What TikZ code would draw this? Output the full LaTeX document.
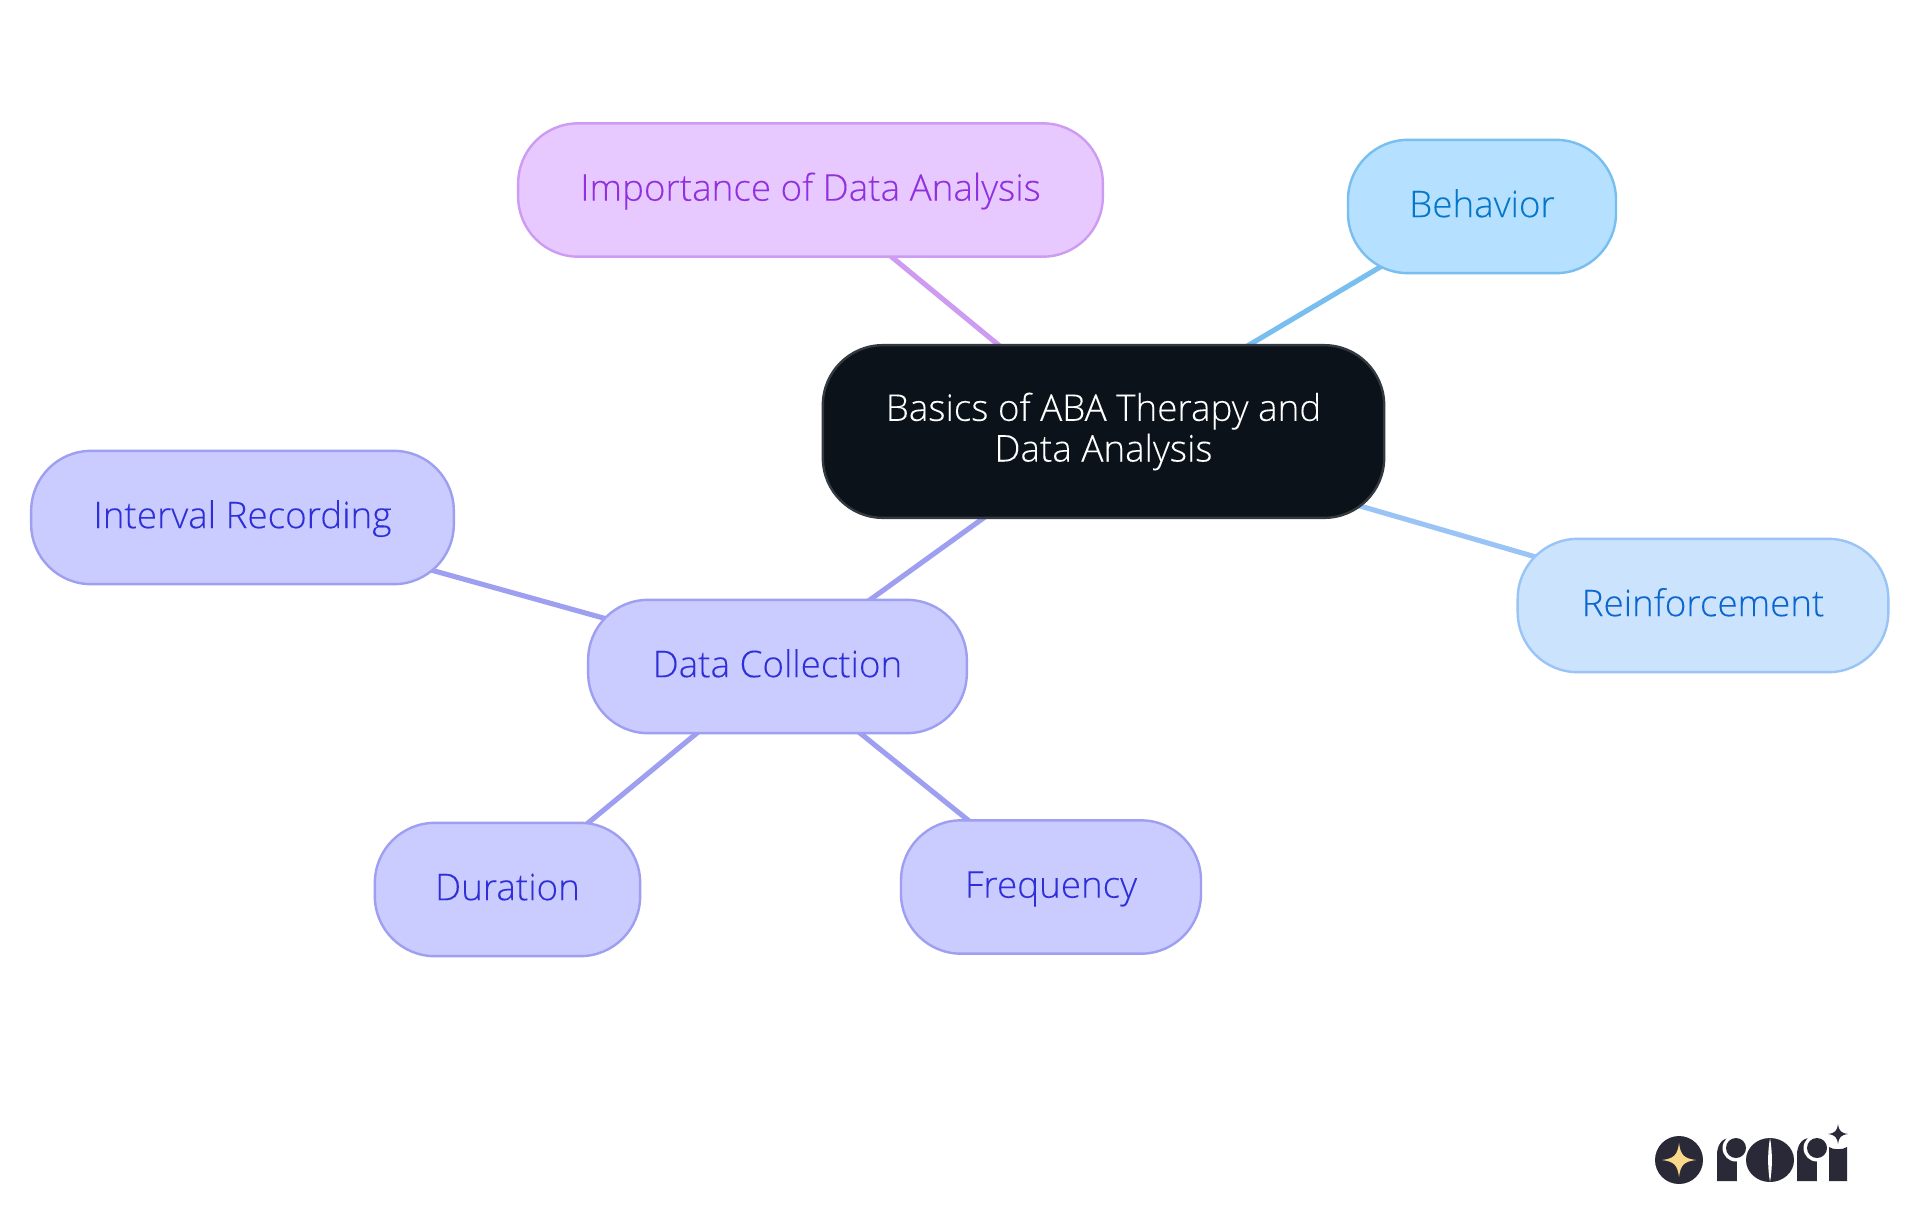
\documentclass[tikz,border=0pt]{standalone}
\usepackage{fontspec}
\setmainfont{Open Sans}[UprightFont=* Light,UprightFeatures={FakeBold=0.12}]
\definecolor{rootfill}{HTML}{0C121A}\definecolor{rootline}{HTML}{34393F}
\definecolor{pfill}{HTML}{E7C9FF}\definecolor{pline}{HTML}{CD9CF2}\definecolor{ptext}{HTML}{9030DF}
\definecolor{bfill}{HTML}{B5E0FF}\definecolor{bline}{HTML}{78BEEF}\definecolor{btext}{HTML}{0577C9}
\definecolor{rfill}{HTML}{CCE3FD}\definecolor{rline}{HTML}{99C4F5}\definecolor{rtext}{HTML}{0B66D0}
\definecolor{dfill}{HTML}{CACBFF}\definecolor{dline}{HTML}{9E9FF0}\definecolor{dtext}{HTML}{2E2FD6}
\definecolor{logo}{HTML}{2A2937}\definecolor{logostar}{HTML}{FBD98B}
\tikzset{
 mm/.style={rectangle,rounded corners=45pt,line width=1.8pt,inner sep=0pt,align=center,font=\fontsize{27.6pt}{30.5pt}\selectfont},
 one/.style={mm,text height=24pt,text depth=8pt,minimum height=100pt},
 rootn/.style={mm,fill=rootfill,draw=rootline,text=white},
 pn/.style={one,fill=pfill,draw=pline,text=ptext},
 bn/.style={one,fill=bfill,draw=bline,text=btext},
 rn/.style={one,fill=rfill,draw=rline,text=rtext},
 dn/.style={one,fill=dfill,draw=dline,text=dtext},
 link/.style={line width=3.8pt}
}
\begin{document}
\begin{tikzpicture}[x=0.75pt,y=-0.75pt]
\useasboundingbox (0,0) rectangle (1920,1215);
\fill[white] (0,0) rectangle (1920,1215);
\coordinate (rc) at (1103.5,431.5);
\coordinate (pc) at (810.5,190);
\coordinate (bc) at (1482,206.5);
\coordinate (rfc) at (1703,605.5);
\coordinate (dc) at (777.5,666.5);
\coordinate (ic) at (242.5,517.5);
\coordinate (duc) at (507.5,889.5);
\coordinate (fc) at (1051,887);
\draw[link,pline] (rc)--(pc);
\draw[link,bline] (rc)--(bc);
\draw[link,rline] (rc)--(rfc);
\draw[link,dline] (rc)--(dc);
\draw[link,dline] (dc)--(ic);
\draw[link,dline] (dc)--(duc);
\draw[link,dline] (dc)--(fc);
\node[rootn,minimum width=421pt,minimum height=129.5pt] (root) at (rc) {Basics of ABA Therapy and\\Data Analysis};
\node[pn,minimum width=438.5pt] (imp) at (pc) {Importance of Data Analysis};
\node[bn,minimum width=201pt] (beh) at (bc) {Behavior};
\node[rn,minimum width=278pt] (rein) at (rfc) {Reinforcement};
\node[dn,minimum width=284pt] (data) at (dc) {Data Collection};
\node[dn,minimum width=317pt] (int) at (ic) {Interval Recording};
\node[dn,minimum width=199pt] (dur) at (duc) {Duration};
\node[dn,minimum width=225pt] (freq) at (fc) {Frequency};
% logo
\fill[logo] (1679,1160) circle (24);
\fill[logostar] (1679,1143) .. controls (1680.5,1155) and (1684,1158.5) .. (1696,1160) .. controls (1684,1161.5) and (1680.5,1165) .. (1679,1177) .. controls (1677.5,1165) and (1674,1161.5) .. (1662,1160) .. controls (1674,1158.5) and (1677.5,1155) .. (1679,1143) -- cycle;
% r
\fill[logo] (1717,1181) -- (1717,1155) .. controls (1717,1145) and (1722,1138) .. (1730,1138) -- (1737,1138) -- (1737,1181) -- cycle;
\fill[white] (1736,1148) circle (13.5);
\fill[white] (1737,1160) rectangle (1745,1181);
\fill[logo] (1736,1148) circle (10);
% o
\fill[logo] (1770,1160) ellipse (24 and 22);
\fill[white] (1770,1138) .. controls (1767.5,1152) and (1767.5,1168) .. (1770,1182) .. controls (1772.5,1168) and (1772.5,1152) .. (1770,1138) -- cycle;
% r
\fill[logo] (1797,1181) -- (1797,1155) .. controls (1797,1145) and (1802,1138) .. (1810,1138) -- (1817,1138) -- (1817,1181) -- cycle;
\fill[white] (1817,1148) circle (13.5);
\fill[white] (1817,1160) rectangle (1825,1181);
\fill[logo] (1817,1148) circle (10);
% i
\fill[logo] (1829,1181) -- (1829,1147) .. controls (1833,1150) and (1843,1150) .. (1847,1147) -- (1847,1181) -- cycle;
\fill[logo] (1838,1124) .. controls (1839,1131) and (1841,1133) .. (1848,1134) .. controls (1841,1135) and (1839,1137) .. (1838,1144) .. controls (1837,1137) and (1835,1135) .. (1828,1134) .. controls (1835,1133) and (1837,1131) .. (1838,1124) -- cycle;
\end{tikzpicture}
\end{document}
